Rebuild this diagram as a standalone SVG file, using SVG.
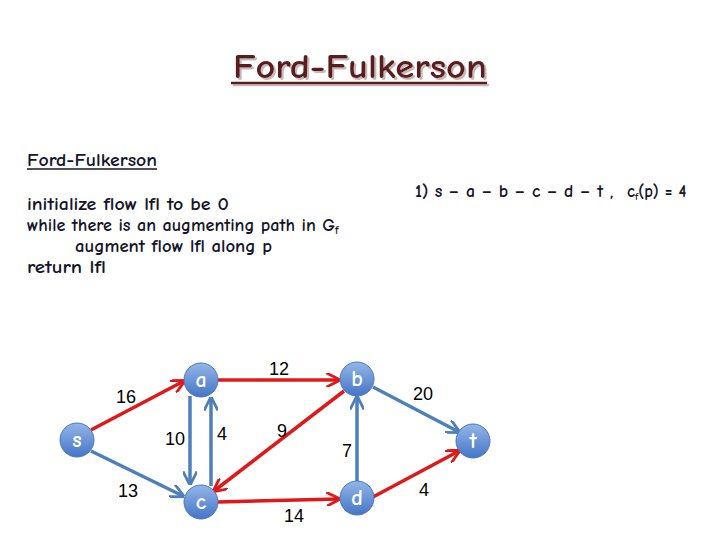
<svg xmlns="http://www.w3.org/2000/svg" width="720" height="540" viewBox="0 0 720 540">
<style>
.t{font-family:"Comic Neue","DejaVu Sans","Liberation Sans",sans-serif;}
.code{font-size:17px;fill:#15152a;font-weight:bold;}
.lbl{font-family:"Liberation Sans",Arial,sans-serif;font-size:18px;fill:#000;text-anchor:middle;}
.nl{font-family:"Comic Neue","DejaVu Sans",sans-serif;font-weight:bold;font-size:22px;fill:#fff;text-anchor:middle;}
.red{stroke:#e01818;stroke-width:3.5;fill:none;marker-end:url(#ar);}
.blue{stroke:#4f7fba;stroke-width:3.5;fill:none;marker-end:url(#ab);}
.node{fill:url(#ng);stroke:#4a78c0;stroke-width:1;}
</style>
<defs>
<linearGradient id="ng" x1="0" y1="0" x2="0" y2="1">
<stop offset="0" stop-color="#94b6e8"/>
<stop offset="1" stop-color="#4475c6"/>
</linearGradient>
<filter id="sh" x="-5%" y="-20%" width="110%" height="140%">
<feOffset in="SourceAlpha" dx="2" dy="2" result="o"/>
<feFlood flood-color="#c8b8b8"/>
<feComposite in2="o" operator="in" result="s"/>
<feMerge><feMergeNode in="s"/><feMergeNode in="SourceGraphic"/></feMerge>
</filter>
<marker id="ar" viewBox="0 0 10 10" refX="9" refY="5" markerWidth="4" markerHeight="4" orient="auto" markerUnits="strokeWidth">
<path d="M0,0 L10,5 L0,10" fill="none" stroke="#e01818" stroke-width="2"/>
</marker>
<marker id="ab" viewBox="0 0 10 10" refX="9" refY="5" markerWidth="4" markerHeight="4" orient="auto" markerUnits="strokeWidth">
<path d="M0,0 L10,5 L0,10" fill="none" stroke="#4f7fba" stroke-width="2"/>
</marker>
</defs>
<rect width="720" height="540" fill="#fff"/>

<g id="title" filter="url(#sh)">
<text x="360" y="78" class="t" font-size="35" font-weight="bold" fill="#5a1c1c" text-anchor="middle" textLength="254" lengthAdjust="spacingAndGlyphs">Ford-Fulkerson</text>
<line x1="231" y1="83" x2="487" y2="83" stroke="#5a1c1c" stroke-width="2.5"/>
</g>

<g id="algo">
<text x="27" y="166" class="t code" textLength="130" lengthAdjust="spacingAndGlyphs">Ford-Fulkerson</text>
<line x1="27" y1="169" x2="157" y2="169" stroke="#15152a" stroke-width="1.5"/>
<text x="27" y="210" class="t code" textLength="202" lengthAdjust="spacingAndGlyphs">initialize flow lfl to be 0</text>
<text x="27" y="231" class="t code"><tspan textLength="308" lengthAdjust="spacingAndGlyphs">while there is an augmenting path in G</tspan><tspan font-size="11" dy="3">f</tspan></text>
<text x="75" y="252" class="t code" textLength="197" lengthAdjust="spacingAndGlyphs">augment flow lfl along p</text>
<text x="27" y="273" class="t code" textLength="79" lengthAdjust="spacingAndGlyphs">return lfl</text>
</g>

<g id="path-info">
<text x="415" y="197" class="t code" fill="#000" textLength="188" lengthAdjust="spacingAndGlyphs">1) s – a – b – c – d – t</text>
<text x="610" y="197" class="t code" fill="#000">,</text>
<text x="627" y="197" class="t code" fill="#000">c<tspan font-size="10" dy="3">f</tspan><tspan dy="-3" textLength="48" lengthAdjust="spacingAndGlyphs">(p) = 4</tspan></text>
</g>

<g id="edges">
<line class="red" x1="91" y1="430" x2="184" y2="381"/>
<line class="blue" x1="91" y1="451" x2="183" y2="496"/>
<line class="blue" x1="190" y1="396" x2="190" y2="484"/>
<line class="blue" x1="211" y1="486" x2="211" y2="398"/>
<line class="red" x1="218" y1="380" x2="339" y2="380"/>
<line class="red" x1="344" y1="391" x2="214" y2="491"/>
<line class="red" x1="218" y1="502" x2="339" y2="499"/>
<line class="blue" x1="357" y1="481" x2="357" y2="397"/>
<line class="blue" x1="373" y1="387" x2="459" y2="432"/>
<line class="red" x1="373" y1="497" x2="459" y2="451"/>
</g>

<g id="edge-labels">
<text class="lbl" x="126" y="403">16</text>
<text class="lbl" x="128" y="497">13</text>
<text class="lbl" x="175" y="445">10</text>
<text class="lbl" x="222" y="440">4</text>
<text class="lbl" x="279" y="375">12</text>
<text class="lbl" x="282" y="437">9</text>
<text class="lbl" x="294" y="522">14</text>
<text class="lbl" x="347" y="457">7</text>
<text class="lbl" x="423" y="400">20</text>
<text class="lbl" x="424" y="496">4</text>
</g>

<g id="node-s"><circle class="node" cx="77" cy="440" r="17"/><text class="nl" x="77" y="447">s</text></g>
<g id="node-a"><circle class="node" cx="201" cy="380" r="17"/><text class="nl" x="201" y="387">a</text></g>
<g id="node-c"><circle class="node" cx="201" cy="502" r="17"/><text class="nl" x="201" y="509">c</text></g>
<g id="node-b"><circle class="node" cx="357" cy="379" r="17"/><text class="nl" x="357" y="386">b</text></g>
<g id="node-d"><circle class="node" cx="357" cy="498" r="17"/><text class="nl" x="357" y="505">d</text></g>
<g id="node-t"><circle class="node" cx="473" cy="441" r="17"/><text class="nl" x="473" y="448">t</text></g>
</svg>
